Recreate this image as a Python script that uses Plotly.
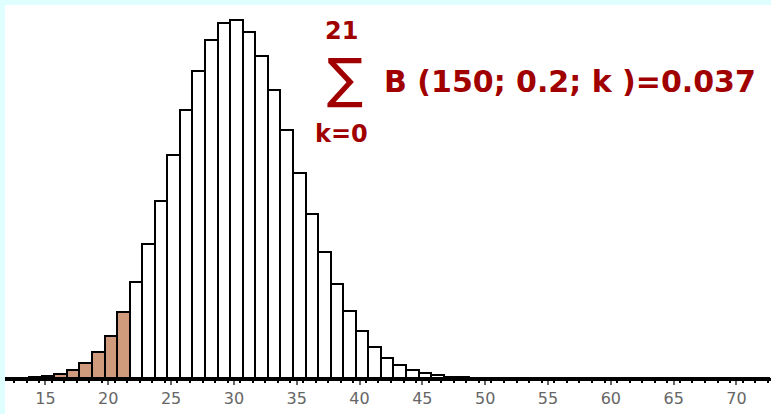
import plotly.graph_objects as go

# ---- data ----
k_values = list(range(12, 73))
probabilities = [
    0.00003, 0.00008, 0.00019, 0.00044, 0.00093, 0.00183, 0.00338, 0.00586,
    0.00960, 0.01486, 0.02178, 0.03031, 0.04010, 0.05052, 0.06072, 0.06972,
    0.07657, 0.08053, 0.08120, 0.07858, 0.07305, 0.06531, 0.05618, 0.04655,
    0.03718, 0.02864, 0.02129, 0.01528, 0.01060, 0.00711, 0.00461, 0.00290,
    0.00176, 0.00104, 0.00059, 0.00033, 0.00018, 0.00009, 0.00005, 0.00002,
    0.00001,
] + [0.0] * 20
highlight_upper = 21
tick_values = [15, 20, 25, 30, 35, 40, 45, 50, 55, 60, 65, 70]
tick_labels = [str(t) for t in tick_values]
formula_text = "B (150; 0.2; k )=0.037"
upper_limit_text = "21"
lower_limit_text = "k=0"

# ---- styling ----
W, H = 771, 414
ML, MT, MR, MB = 5, 5, 0, 36
PW, PH = W - ML - MR, H - MT - MB
BROWN = "#cf9b7c"
RED = "#a00000"
CYAN = "#dfffff"

colors = [BROWN if k <= highlight_upper else "white" for k in k_values]

fig = go.Figure(go.Bar(
    x=k_values, y=probabilities, width=1.0, offset=-0.3,
    marker=dict(color=colors, line=dict(color="black", width=2)),
    hoverinfo="x+y",
))

def px_x(p):
    return (p - ML) / PW

def px_y(p):
    return (H - MB - p) / PH

fig.update_layout(
    width=W, height=H,
    margin=dict(l=ML, r=MR, t=MT, b=MB),
    paper_bgcolor="white", plot_bgcolor="white",
    showlegend=False, bargap=0,
    xaxis=dict(
        range=[11.78, 72.75], tickvals=tick_values, ticktext=tick_labels,
        ticks="outside", ticklen=4, tickwidth=2, tickcolor="#666",
        tickfont=dict(family="DejaVu Sans", size=16, color="#666"),
        showgrid=False, zeroline=False,
        showline=True, linecolor="black", linewidth=3,
        minor=dict(tick0=0.5, dtick=1, ticks="outside", ticklen=2,
                   tickwidth=2, tickcolor="black"),
    ),
    yaxis=dict(range=[0, 0.0846], visible=False, showgrid=False, zeroline=False),
    shapes=[
        dict(type="rect", xref="paper", yref="paper",
             x0=-ML / PW, x1=0, y0=-MB / PH, y1=1 + MT / PH,
             fillcolor=CYAN, line=dict(width=0), layer="above"),
        dict(type="rect", xref="paper", yref="paper",
             x0=-ML / PW, x1=1 + 1 / PW, y0=1, y1=1 + MT / PH,
             fillcolor=CYAN, line=dict(width=0), layer="above"),
    ],
    annotations=[
        dict(xref="paper", yref="paper", x=px_x(382), y=px_y(81),
             xanchor="left", yanchor="middle", showarrow=False,
             text=formula_text,
             font=dict(family="DejaVu Sans", size=30, color=RED, weight="bold")),
        dict(xref="paper", yref="paper", x=px_x(345), y=px_y(78),
             xanchor="center", yanchor="middle", showarrow=False,
             text="∑",
             font=dict(family="DejaVu Sans", size=54, color=RED, weight="normal")),
        dict(xref="paper", yref="paper", x=px_x(341), y=px_y(31),
             xanchor="center", yanchor="middle", showarrow=False,
             text=upper_limit_text,
             font=dict(family="DejaVu Sans", size=24, color=RED, weight="bold")),
        dict(xref="paper", yref="paper", x=px_x(341), y=px_y(134),
             xanchor="center", yanchor="middle", showarrow=False,
             text=lower_limit_text,
             font=dict(family="DejaVu Sans", size=24, color=RED, weight="bold")),
    ],
)

fig.write_html("out.html", config={"displayModeBar": False},
               post_script="document.body.style.margin='0px';")
